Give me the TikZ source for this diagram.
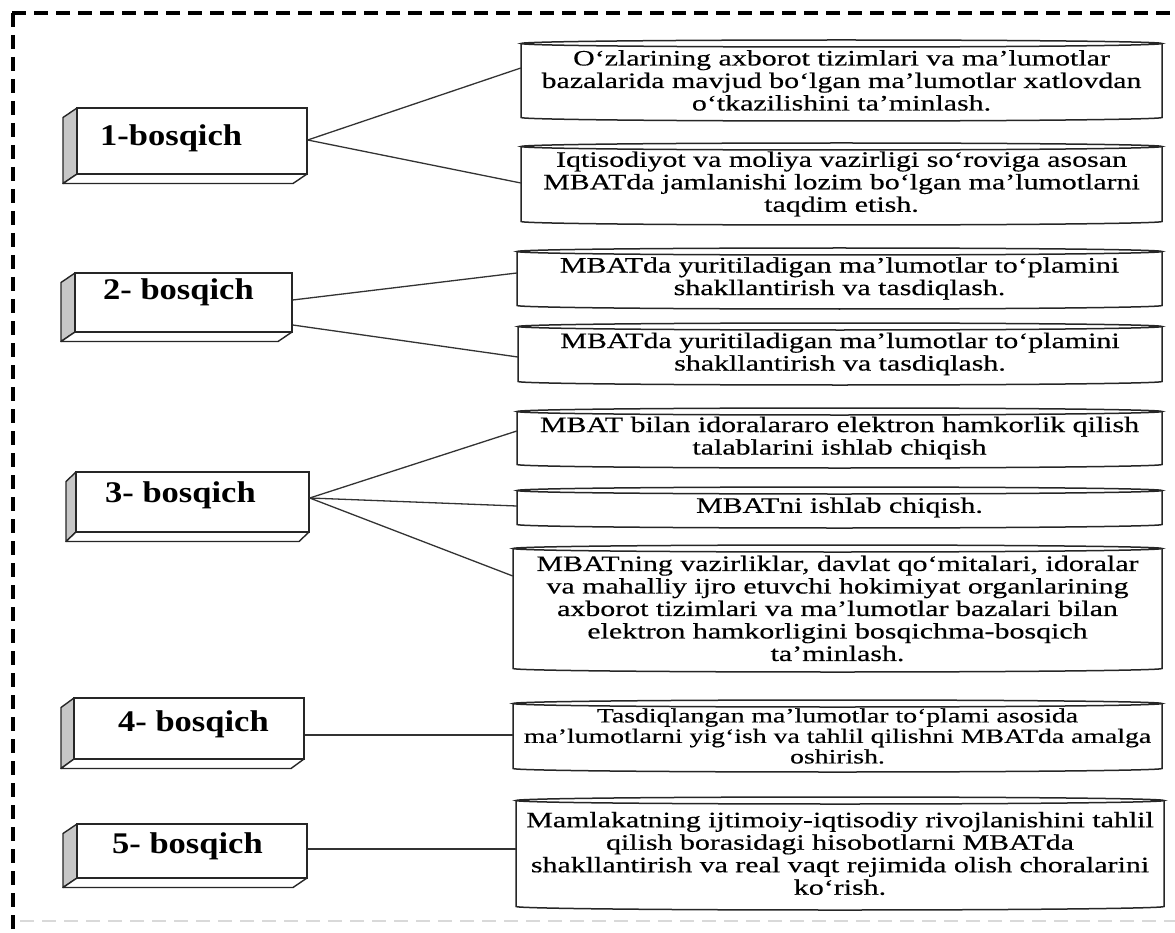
\documentclass[tikz,border=0pt]{standalone}
\usepackage{fontspec}
\setmainfont{Liberation Serif}
\newfontfamily\bodyfont[FakeStretch=1.36,FakeBold=0.4]{Liberation Serif}
\newfontfamily\stagefont[FakeStretch=1.15]{Liberation Serif}
\usetikzlibrary{calc}
\tikzset{
  frameline/.style={line width=3.4pt, dash pattern=on 14pt off 8pt},
  stagefront/.style={draw=black!85, line width=1.4pt, fill=white, inner sep=0pt},
  stageside/.style={draw=black!85, line width=1.4pt, fill=black!22, line join=round},
  stagebottom/.style={draw=black!85, line width=1.4pt, fill=white, line join=round},
  stagelabel/.style={font=\stagefont\bfseries\fontsize{30}{32}\selectfont, inner sep=0pt, anchor=base west},
  txtbox/.style={inner sep=0pt, align=center, font=\bodyfont\fontsize{22}{22.5}\selectfont},
  smalltxt/.style={font=\bodyfont\fontsize{20.4}{20.5}\selectfont},
  cylline/.style={draw=black!85, line width=1.5pt},
  conn/.style={draw=black!80, line width=1.3pt},
}
\newcommand\cylbox[7]{%
  \pgfmathsetmacro\cbw{#4-#2}\pgfmathsetmacro\cbh{#5-#3}%
  \pgfmathsetmacro\cbcx{(#2+#4)/2}\pgfmathsetmacro\cbcy{(#3+#5)/2}%
  \pgfmathsetmacro\cbrx{(#4-#2)/2}%
  \fill[white] (#2,#3) rectangle (#4,#5);
  \draw[cylline] (#2,#3+3.5) -- (#2,#5-3.5) arc[start angle=180,end angle=0,x radius=\cbrx,y radius=3.5] -- (#4,#3+3.5);
  \draw[cylline] (\cbcx,#3+3.5) ellipse[x radius=\cbrx, y radius=3.5];
  \node[txtbox,#7, minimum width=\cbw pt, minimum height=\cbh pt] (#1) at (\cbcx,\cbcy) {#6};
}
\newcommand\stagebox[9]{%
  \pgfmathsetmacro\sbw{#4-#2}\pgfmathsetmacro\sbh{#5-#3}%
  \pgfmathsetmacro\sbcx{(#2+#4)/2}\pgfmathsetmacro\sbcy{(#3+#5)/2}%
  \draw[stageside] (#2,#3) -- (#2-#6,#3+9.5) -- (#2-#6,#5+9.5) -- (#2,#5) -- cycle;
  \draw[stagebottom] (#2,#5) -- (#2-#6,#5+9.5) -- (#4-#6,#5+9.5) -- (#4,#5) -- cycle;
  \node[stagefront, minimum width=\sbw pt, minimum height=\sbh pt] (#1) at (\sbcx,\sbcy) {};
  \node[stagelabel] (#1l) at (#7,#8) {#9};
}
\begin{document}
\begin{tikzpicture}[x=1pt,y=-1pt]
\useasboundingbox (0,0) rectangle (1175,933);
\fill[white] (0,0) rectangle (1175,933);
% frame
\draw[frameline] (12,13) -- (1175,13);
\draw[frameline] (13,13) -- (13,933);
\draw[black!15, line width=2pt, dash pattern=on 14pt off 8pt] (20,921) -- (1175,921);
% stages
\stagebox{s1}{77}{108}{307}{174}{14}{100}{145.5}{1-bosqich}
\stagebox{s2}{75}{273}{292}{332}{14}{103}{299}{2- bosqich}
\stagebox{s3}{76}{472}{309}{532}{10}{105}{502}{3- bosqich}
\stagebox{s4}{74}{698}{304}{759}{13}{118}{731}{4- bosqich}
\stagebox{s5}{77}{824}{307}{878}{14}{112}{853}{5- bosqich}
% right boxes
\cylbox{r1a}{521}{40}{1162}{121}{O‘zlarining axborot tizimlari va ma’lumotlar\\bazalarida mavjud bo‘lgan ma’lumotlar xatlovdan\\o‘tkazilishini ta’minlash.}{}
\cylbox{r1b}{521}{143}{1162}{225}{Iqtisodiyot va moliya vazirligi so‘roviga asosan\\MBATda jamlanishi lozim bo‘lgan ma’lumotlarni\\taqdim etish.}{}
\cylbox{r2a}{517}{248}{1162}{309}{MBATda yuritiladigan ma’lumotlar to‘plamini\\shakllantirish va tasdiqlash.}{}
\cylbox{r2b}{518}{323}{1162}{385}{MBATda yuritiladigan ma’lumotlar to‘plamini\\shakllantirish va tasdiqlash.}{}
\cylbox{r3a}{517}{408}{1162}{468}{MBAT bilan idoralararo elektron hamkorlik qilish\\talablarini ishlab chiqish}{}
\cylbox{r3b}{517}{487}{1162}{528}{MBATni ishlab chiqish.}{}
\cylbox{r3c}{513}{545}{1162}{672}{MBATning vazirliklar, davlat qo‘mitalari, idoralar\\va mahalliy ijro etuvchi hokimiyat organlarining\\axborot tizimlari va ma’lumotlar bazalari bilan\\elektron hamkorligini bosqichma-bosqich\\ta’minlash.}{}
\cylbox{r4}{513}{700}{1162}{772}{Tasdiqlangan ma’lumotlar to‘plami asosida\\ma’lumotlarni yig‘ish va tahlil qilishni MBATda amalga\\oshirish.}{smalltxt}
\cylbox{r5}{516}{797}{1164}{910}{Mamlakatning ijtimoiy-iqtisodiy rivojlanishini tahlil\\qilish borasidagi hisobotlarni MBATda\\shakllantirish va real vaqt rejimida olish choralarini\\ko‘rish.}{}
% connectors
\draw[conn] ($(s1.east)+(0,-1)$) -- ($(r1a.west)+(0,-12.5)$);
\draw[conn] ($(s1.east)+(0,-1)$) -- ($(r1b.west)+(0,-1)$);
\draw[conn] ($(s2.east)+(0,-2.5)$) -- ($(r2a.west)+(0,-5.5)$);
\draw[conn] ($(s2.east)+(0,22.5)$) -- ($(r2b.west)+(0,3)$);
\draw[conn] ($(s3.east)+(0,-4)$) -- ($(r3a.west)+(0,-7)$);
\draw[conn] ($(s3.east)+(0,-4)$) -- ($(r3b.west)+(0,-1.5)$);
\draw[conn] ($(s3.east)+(0,-4)$) -- ($(r3c.west)+(0,-32.5)$);
\draw[conn] ($(s4.east)+(0,6.5)$) -- ($(r4.west)+(0,-1)$);
\draw[conn] ($(s5.east)+(0,-2)$) -- ($(r5.west)+(0,-4.5)$);
\end{tikzpicture}
\end{document}
